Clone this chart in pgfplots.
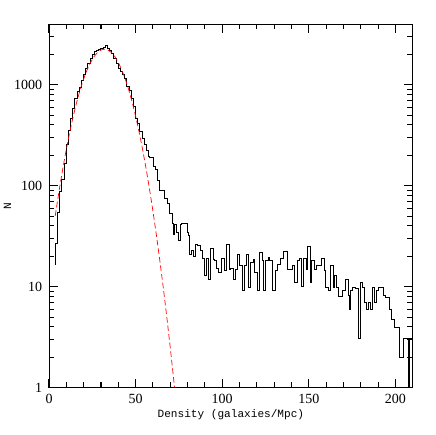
\documentclass[border=0pt]{standalone}
\usepackage{pgfplots}
\pgfplotsset{compat=1.18}
\usepackage{fontspec}
\setmainfont{Liberation Serif}
\newfontfamily\monof{Liberation Mono}

\begin{document}
\begin{tikzpicture}
\begin{axis}[
name=ax,
scale only axis,width=10.95cm,height=10.95cm,
ymode=log,xmin=0,xmax=210,ymin=1,ymax=4000,
xtick={0,50,100,150,200},xticklabels={0,50,100,150,200},minor x tick num=4,
ytick={1,10,100,1000},yticklabels={1,10,100,1000},
yminorticks=true,
minor ytick={2,3,4,5,6,7,8,9,20,30,40,50,60,70,80,90,200,300,400,500,600,700,800,900,2000,3000},
tick align=inside,major tick length=0.27cm,minor tick length=0.16cm,
axis line style={black,line width=0.7pt},
xtick style={draw=black,line width=0.9pt},ytick style={draw=black,line width=0.9pt},
tick label style={font=\fontsize{12}{14}\selectfont},
xticklabel style={yshift=-0.08cm},yticklabel style={xshift=-0.08cm},
xlabel={Density (galaxies/Mpc)},ylabel={N},
label style={font=\monof\fontsize{9.5}{11}\selectfont},
xlabel style={at={(axis description cs:0.5,0)},anchor=center,yshift=-0.82cm},
ylabel style={at={(axis description cs:-0.114,0.5)},anchor=center},
clip=true,axis on top
]
% histogram
\addplot[black,line width=0.6pt,const plot,no marks] coordinates {
(3.3,16.8) (3.6,26.8) (4.85,54) (6.1,88.5) (7.35,115) (8.6,168) (9.85,259)
(11.1,354) (12.35,469) (13.6,583) (14.85,739) (16.1,853) (17.35,949)
(18.6,1102) (19.85,1253) (21.1,1457) (22.35,1630) (23.6,1825) (24.85,2012)
(26.1,2122) (27.35,2190) (28.6,2244) (29.85,2290) (31.1,2320) (32.35,2437)
(33.6,2290) (34.85,2190) (36.1,2043) (37.35,1825) (38.6,1630) (39.85,1457)
(41.1,1350) (42.35,1253) (43.6,1159) (44.85,957) (46.1,889) (47.35,739)
(48.6,608) (49.85,469) (51.1,418) (52.35,345) (53.6,297)
(54.85,255) (55.95,224) (57.1,196) (58.1,193) (59.2,190) (60.4,156)
(61.3,145) (62.5,113) (63.85,90) (65.0,89) (66.7,75) (68.3,67) (69.6,53)
(71.0,42.2) (71.6,33.1) (72.5,41.6) (73.7,34.4) (74.4,28.9) (75.8,41.6)
(76.5,42) (77.8,42) (79.6,34.4) (80.4,31.9) (81.1,21.0) (82.1,22.7)
(83.4,20.2) (84.6,26.4) (85.9,25.8) (87.5,22.7) (88.4,19.1) (89.4,13.1)
(90.7,19.1) (91.7,11.9) (93.0,23.9) (94.6,18.8) (95.6,18.1) (96.7,15.2)
(97.9,13.9) (99.4,19.1) (100.96,14.4) (102.3,26.4) (103.85,15.0) (104.8,15.2)
(106.2,11.9) (107.5,15.0) (108.7,21.0) (110.0,16.1) (111.35,9.2) (112.5,16.1)
(113.9,21.0) (115.2,9.9) (116.4,17.4) (117.7,18.8) (118.7,13.9) (120.0,9.2)
(121.6,21.9) (122.9,18.1) (123.9,9.2) (125.0,18.1) (126.4,19.5) (127.3,18.1)
(128.9,9.2) (130.8,14.4) (132.1,16.8) (133.5,19.1) (135.3,22.2) (137.5,15.0)
(140.4,16.1) (141.7,11.1) (143.1,18.1) (144.6,19.1) (145.6,10.0) (146.7,19.1)
(148.3,15.0) (149.4,25.1) (150.6,11.1) (151.7,18.1) (152.9,15.0) (154.6,16.1)
(157.1,19.1) (158.7,14.4) (159.6,9.9) (161.0,9.2) (162.3,16.1) (163.9,9.9)
(164.8,12.9) (165.8,9.9) (167.1,8.1) (169.6,9.2) (171.1,11.9) (172.7,8.2)
(173.5,6.0) (174.2,9.1) (175.1,9.9) (177.0,9.6) (178.4,3.06) (179.5,11.1)
(180.9,9.9) (182.0,7.0) (183.4,6.0) (184.3,7.0) (185.3,6.0) (186.6,9.9)
(187.8,7.0) (188.9,9.1) (190.1,9.9) (193.0,8.2) (194.3,7.9) (196.3,6.0)
(197.6,4.8) (199.1,4.0) (202.4,2.0) (204.3,3.06) (207.5,0.5) (207.9,3.06)
(210,3.06)
};
% gaussian fit
\addplot[red,line width=0.6pt,dash pattern=on 0.17cm off 0.09cm,no marks] coordinates {
(3.6,50.3) (4,55.9) (6,93.0) (8,149.0) (10,229.9) (12,341.6) (14,488.7)
(16,673.3) (18,893.5) (20,1141.5) (22,1404.6) (24,1664.2) (26,1898.9)
(28,2086.6) (30,2207.9) (32,2250) (34,2207.9) (36,2086.6) (38,1898.9)
(40,1664.2) (42,1404.6) (44,1141.5) (46,893.5) (48,673.3) (50,488.7)
(52,341.6) (54,229.9) (56,149.0) (58,93.0) (60,55.9) (62,32.4) (64,18.0)
(66,9.69) (68,5.01) (70,2.49) (72,1.195) (74,0.551)
};
\end{axis}
\path ([xshift=-1.431cm,yshift=-1.401cm]ax.south west) rectangle ([xshift=0.699cm,yshift=0.72cm]ax.north east);
\end{tikzpicture}
\end{document}
